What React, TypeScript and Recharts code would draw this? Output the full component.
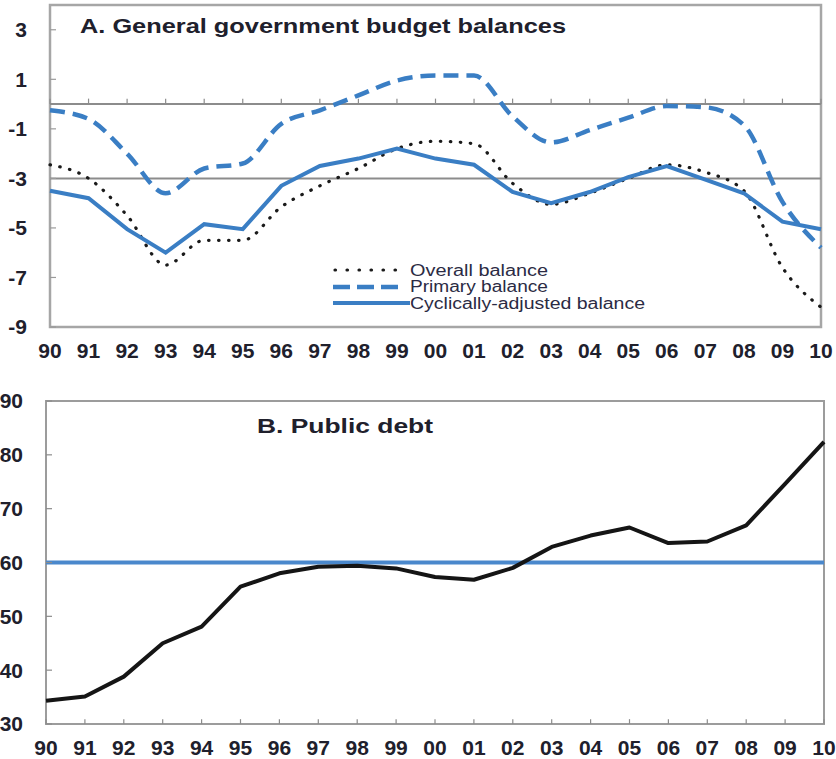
import React from 'react';
import { LineChart, Line, XAxis, YAxis, ReferenceLine, ReferenceArea } from 'recharts';

const years = ['90', '91', '92', '93', '94', '95', '96', '97', '98', '99', '00', '01', '02', '03', '04', '05', '06', '07', '08', '09', '10'];
const overallBalance = [-2.45, -3.0, -4.5, -6.5, -5.5, -5.5, -4.15, -3.3, -2.6, -1.8, -1.5, -1.6, -3.2, -4.05, -3.6, -3.0, -2.45, -2.75, -3.5, -6.6, -8.2];
const primaryBalance = [-0.25, -0.6, -2.0, -3.6, -2.6, -2.4, -0.8, -0.25, 0.35, 0.95, 1.15, 1.15, -0.5, -1.55, -1.05, -0.55, -0.08, -0.13, -0.85, -3.95, -5.8];
const cyclicalBalance = [-3.5, -3.8, -5.05, -6.0, -4.85, -5.05, -3.3, -2.5, -2.2, -1.8, -2.2, -2.45, -3.55, -4.0, -3.55, -2.95, -2.5, -3.05, -3.6, -4.75, -5.05];
const publicDebt = [34.3, 35.1, 38.8, 45.0, 48.1, 55.5, 58.0, 59.2, 59.4, 58.9, 57.3, 56.8, 59.0, 62.9, 65.0, 66.5, 63.6, 63.9, 66.9, 74.6, 82.4];

const balanceTicks = [3, 1, -1, -3, -5, -7, -9];
const balanceDomain = [-9, 4];
const balanceReferences = [0, -3];
const debtTicks = [30, 40, 50, 60, 70, 80, 90];
const debtDomain = [30, 90];
const debtReference = 60;

const seriesNames = ['Overall balance', 'Primary balance', 'Cyclically-adjusted balance'];
const titleA = 'A. General government budget balances';
const titleB = 'B. Public debt';

const balanceData = years.map((year, i) => ({
  year,
  overall: overallBalance[i],
  primary: primaryBalance[i],
  cyclical: cyclicalBalance[i],
}));
const debtData = years.map((year, i) => ({ year, debt: publicDebt[i] }));

const FONT = '"Liberation Sans", Arial, Helvetica, sans-serif';
const BLUE = '#3a7ec4';
const TEXT = '#20202c';
const tickStyle = { fontSize: 21, fontWeight: 700, fill: TEXT, fontFamily: FONT };

const makeYTick = (margin: number, color: string) => (props: any) => {
  const { x, y, payload } = props;
  return (
    <g>
      <text x={x} y={y} dy="0.355em" textAnchor="end" {...tickStyle}>
        {payload.value}
      </text>
      <line x1={x + margin} x2={x + margin + 6} y1={y} y2={y} stroke={color} strokeWidth={1.2} />
    </g>
  );
};

export default function App() {
  return (
    <div style={{ position: 'absolute', left: 0, top: 0, width: 836, height: 759, background: '#fff' }}>
      <div style={{ position: 'absolute', left: 0, top: 0 }}>
        <LineChart width={836} height={370} data={balanceData} margin={{ top: 5, right: 15, left: 0, bottom: 0 }}>
          <XAxis dataKey="year" interval={0} tickLine={false} axisLine={false} tickSize={0} tickMargin={16} height={43} tick={tickStyle} />
          <YAxis type="number" domain={balanceDomain} ticks={balanceTicks} interval={0} width={50} tickLine={false} axisLine={false} tickSize={0} tickMargin={23} tick={makeYTick(23, '#9a9a9a')} />
          <ReferenceArea x1={years[0]} x2={years[years.length - 1]} y1={balanceDomain[0]} y2={balanceDomain[1]} fill="none" fillOpacity={0} stroke="#a6a6a6" strokeWidth={2.5} />
          {balanceReferences.map((v) => (
            <ReferenceLine key={'r' + v} y={v} stroke="#8c8c8c" strokeWidth={2} />
          ))}
          {years.map((yr) => (
            <ReferenceLine key={'t' + yr} segment={[{ x: yr, y: 0 }, { x: yr, y: 0.22 }]} stroke="#8c8c8c" strokeWidth={1.2} />
          ))}
          <Line dataKey="overall" name={seriesNames[0]} type="monotone" stroke="#1a1a1a" strokeWidth={3.2} strokeDasharray="0.5 9.5" strokeLinecap="round" dot={false} isAnimationActive={false} />
          <Line dataKey="primary" name={seriesNames[1]} type="monotone" stroke={BLUE} strokeWidth={4.5} strokeDasharray="15 8" dot={false} isAnimationActive={false} />
          <Line dataKey="cyclical" name={seriesNames[2]} type="linear" stroke={BLUE} strokeWidth={4} dot={false} isAnimationActive={false} />
        </LineChart>
      </div>
      <div style={{ position: 'absolute', left: 0, top: 370 }}>
        <LineChart width={836} height={389} data={debtData} margin={{ top: 31, right: 12, left: 0, bottom: 0 }}>
          <XAxis dataKey="year" interval={0} tickLine={false} axisLine={false} tickSize={0} tickMargin={16} height={35} tick={tickStyle} />
          <YAxis type="number" domain={debtDomain} ticks={debtTicks} interval={0} width={46} tickLine={false} axisLine={false} tickSize={0} tickMargin={23} tick={makeYTick(23, '#8c8c8c')} />
          <ReferenceArea x1={years[0]} x2={years[years.length - 1]} y1={debtDomain[0]} y2={debtDomain[1]} fill="none" fillOpacity={0} stroke="#9c9c9c" strokeWidth={2} />
          {years.map((yr) => (
            <ReferenceLine key={'b' + yr} segment={[{ x: yr, y: debtDomain[0] }, { x: yr, y: debtDomain[0] + 0.9 }]} stroke="#8c8c8c" strokeWidth={1.2} />
          ))}
          <ReferenceLine y={debtReference} stroke="#4a88cc" strokeWidth={4} />
          <Line dataKey="debt" type="linear" stroke="#151515" strokeWidth={4} strokeLinejoin="round" dot={false} isAnimationActive={false} />
        </LineChart>
      </div>
      <svg width={836} height={759} style={{ position: 'absolute', left: 0, top: 0, pointerEvents: 'none' }}>
        <text x={80} y={33} fontSize={21} fontWeight={700} fill={TEXT} fontFamily={FONT} textLength={486} lengthAdjust="spacingAndGlyphs">
          {titleA}
        </text>
        <text x={257} y={433} fontSize={21} fontWeight={700} fill={TEXT} fontFamily={FONT} textLength={176} lengthAdjust="spacingAndGlyphs">
          {titleB}
        </text>
        <line x1={335} x2={398} y1={270} y2={270} stroke="#1a1a1a" strokeWidth={3.2} strokeDasharray="0.5 11.5" strokeLinecap="round" />
        <line x1={333} x2={398} y1={287} y2={287} stroke={BLUE} strokeWidth={4.5} strokeDasharray="17 7" />
        <line x1={333} x2={410} y1={303} y2={303} stroke={BLUE} strokeWidth={4} />
        <text x={410} y={276} fontSize={16} fill="#2b2b44" fontFamily={FONT} textLength={138} lengthAdjust="spacingAndGlyphs">{seriesNames[0]}</text>
        <text x={410} y={292} fontSize={16} fill="#2b2b44" fontFamily={FONT} textLength={138} lengthAdjust="spacingAndGlyphs">{seriesNames[1]}</text>
        <text x={410} y={309} fontSize={16} fill="#2b2b44" fontFamily={FONT} textLength={235} lengthAdjust="spacingAndGlyphs">{seriesNames[2]}</text>
      </svg>
    </div>
  );
}
